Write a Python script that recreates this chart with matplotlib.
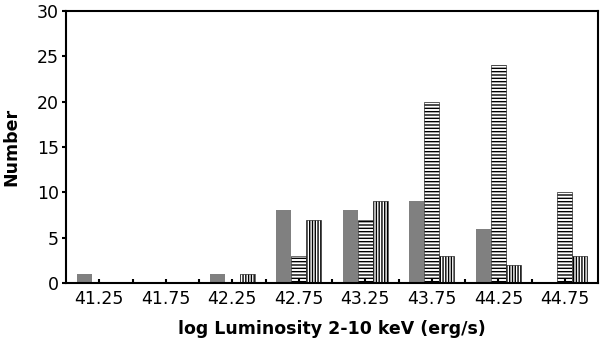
import numpy as np
import matplotlib.pyplot as plt

# ── DATA ──────────────────────────────────────────
bin_centers = [41.25, 41.75, 42.25, 42.75, 43.25, 43.75, 44.25, 44.75]
gray_counts = [1, 0, 1, 8, 8, 9, 6, 0]
horiz_counts = [0, 0, 0, 3, 7, 20, 24, 10]
vert_counts = [0, 0, 1, 7, 9, 3, 2, 3]

# ── PLOT ──────────────────────────────────────────
fig = plt.figure(figsize=(6, 3.41), dpi=100)
ax = fig.add_axes([0.11, 0.17, 0.887, 0.798])

x = np.array(bin_centers)
w = 0.113
ax.bar(x - w, gray_counts, w, color='#808080', linewidth=0)
ax.bar(x, horiz_counts, w, facecolor='white', edgecolor='black',
       hatch='-----', linewidth=0.4)
ax.bar(x + w, vert_counts, w, facecolor='white', edgecolor='black',
       hatch='||||||', linewidth=0.4)

ax.set_xlim(41.0, 45.0)
ax.set_ylim(0, 30)
ax.set_xticks(bin_centers)
ax.set_xticklabels([f'{v:.2f}' for v in bin_centers])
ax.set_xticks(np.arange(41.5, 45.0, 0.5), minor=True)
ax.set_yticks(range(0, 31, 5))

ax.tick_params(axis='x', which='both', direction='in', length=3, width=1.5,
               labelsize=12.5, pad=5)
ax.tick_params(axis='y', direction='out', length=3, width=1.5,
               labelsize=12.5, pad=2)
for s in ax.spines.values():
    s.set_linewidth(1.5)

ax.set_xlabel('log Luminosity 2-10 keV (erg/s)', fontsize=12.5,
              fontweight='bold', labelpad=9)
ax.set_ylabel('Number', fontsize=12.5, fontweight='bold', labelpad=12)

fig.savefig('out.png', dpi=100)
